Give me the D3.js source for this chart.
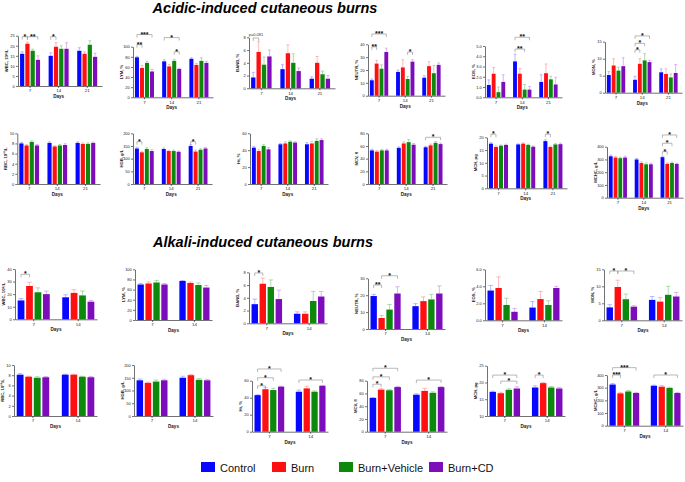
<!DOCTYPE html>
<html><head><meta charset="utf-8">
<script src="https://cdn.jsdelivr.net/npm/d3@7"></script>
<style>body{margin:0;background:#fff}svg{display:block}text{font-family:"Liberation Sans",Arial,sans-serif}</style>
</head><body><svg id="c" width="685" height="482"></svg>
<script>
// ---------- DATA ----------
const days3 = ["7","14","21"];
const days2 = ["7","14"];
const groups = ["Control","Burn","Burn+Vehicle","Burn+CD"];

// Acidic-induced burns: values [day][group], SD [day][group], significance [day, g1, g2, level, label]
const aWBC = [[16,21,17.5,13],[15,19.5,18.5,18.5],[17.5,16,20.5,14.5]];
const aWBCsd = [[1,0.8,0.8,2],[1.5,2,1.5,3],[1.5,1,2,1.8]];
const aWBCsig = [[0,0,1,24.5,"*"],[0,1,3,24.5,"**"],[1,0,1,24.5,"*"]];
const aLYM = [[79,58,68,51],[71,61,72,56],[76,64,72,68]];
const aLYMsd = [[2,5,3,4],[3,4,3,1.5],[2,3,6,3]];
const aLYMsig = [[0,0,1,104,"**"],[0,0,3,124,"***"],[1,0,3,118,"*"],[1,2,3,90,"*"]];
const aBAND = [[1.7,5.7,3.7,5.0],[3.0,5.5,4.0,2.7],[1.5,4.0,2.2,1.5]];
const aBANDsd = [[0.8,1.6,1.2,1.0],[0.7,1.3,1.4,0.5],[0.3,1.0,0.5,0.5]];
const aBANDsig = [[0,0,1,7.9,"p=0.081"]];
const aNEUTR = [[12,25,21,34],[18.5,22,13,26.5],[14,23,17.5,24]];
const aNEUTRsd = [[1,2.5,3,3],[1.5,6,2,1.5],[1.5,3.5,6,1.5]];
const aNEUTRsig = [[0,0,1,38,"**"],[0,0,3,48,"***"],[1,2,3,34,"*"]];
const aEOS = [[1.2,2.3,0.5,1.5],[3.5,2.3,0.75,0.75],[1.5,2.35,1.75,1.25]];
const aEOSsd = [[0.5,0.6,0.5,0.7],[0.7,0.5,0.5,0.3],[0.7,0.9,0.3,0.7]];
const aEOSsig = [[1,0,2,4.7,"**"],[1,0,3,5.85,"**"]];
const aMON = [[5.2,8,6.5,7.8],[3.8,8.5,9.5,9],[6,5.5,4.5,5.8]];
const aMONsd = [[1,2,1,2.5],[1,1.5,2,0.5],[1,1.5,1,2.5]];
const aMONsig = [[1,0,1,12.6,"*"],[1,0,2,14.5,"*"],[1,0,3,16.7,"*"]];
const aRBC = [[8.0,7.6,8.3,7.6],[8.1,7.4,7.6,7.7],[8.1,7.9,7.9,8.1]];
const aRBCsd = [[0.2,0.15,0.2,0.2],[0.2,0.15,0.2,0.25],[0.2,0.2,0.2,0.15]];
const aHGB = [[140,125,138,130],[138,130,130,127],[150,128,135,140]];
const aHGBsd = [[5,4,5,5],[4,3,4,3],[5,6,4,4]];
const aHGBsig = [[0,0,1,167,"*"],[2,0,1,167,"*"]];
const aHt = [[43,39,45,41],[47,48,50,49],[47,48,51,52]];
const aHtsd = [[1.5,1.5,1.5,2],[1,2,1,1],[2,2.5,2.5,1.5]];
const aMCV = [[53,51,53,53],[57,64,66,62],[58,61,65,63]];
const aMCVsd = [[2,1.5,1.5,2],[1.5,2.5,4,2],[1.5,2,2,1.5]];
const aMCVsig = [[2,0,3,73.7,"*"]];
const aMCH = [[17.5,16.2,16.7,17],[17.2,17.5,17,16.3],[18.5,16.2,17.2,17.3]];
const aMCHsd = [[0.4,0.4,0.3,0.3],[0.2,0.3,0.3,0.3],[0.5,0.4,0.3,0.4]];
const aMCHsig = [[0,0,1,21.2,"*"],[2,0,1,21.2,"*"]];
const aMCHC = [[325,315,310,315],[300,272,262,262],[318,265,272,265]];
const aMCHCsd = [[10,8,8,10],[8,10,10,8],[8,8,8,5]];
const aMCHCsig = [[2,0,1,361,"*"],[2,0,2,427,"*"],[2,0,3,492,"*"]];

// Alkali-induced burns
const kWBC = [[15,26.5,21.5,20],[17.5,21,19,14]];
const kWBCsd = [[1.5,3,3.5,2.5],[2,2.5,3.5,1]];
const kWBCsig = [[0,0,1,35.8,"*"]];
const kLYM = [[70,72,74,70],[77,73,69,64]];
const kLYMsd = [[2,3,4,2],[1,2,4,4]];
const kBAND = [[3.0,6.2,5.7,3.8],[1.5,1.5,3.5,4.2]];
const kBANDsd = [[0.8,0.9,1.1,1.4],[0.3,0.3,1.5,0.8]];
const kBANDsig = [[0,0,1,7.9,"*"]];
const kNEUTR = [[19.5,6.5,11.5,21],[13.5,16.5,17.5,21]];
const kNEUTRsd = [[1,1.5,3,4],[1.5,2.5,3,4.5]];
const kNEUTRsig = [[0,0,1,26,"**"],[0,1,3,31.5,"*"]];
const kEOS = [[3.5,3.8,1.8,1.0],[1.5,2.5,1.8,3.8]];
const kEOSsd = [[0.6,1.3,0.8,0.4],[0.7,0.9,0.5,0.2]];
const kMON = [[3.8,9.8,6.2,4.0],[6,5.5,7.5,7]];
const kMONsd = [[0.8,2,1.5,0.3],[1,1.2,2.5,1.2]];
const kMONsig = [[0,0,1,14.5,"*"],[0,1,3,14.5,"*"]];
const kRBC = [[8.1,7.7,7.5,7.6],[8.1,8.1,7.7,7.6]];
const kRBCsd = [[0.2,0.1,0.2,0.15],[0.1,0.1,0.1,0.15]];
const kHGB = [[140,130,135,140],[150,160,142,140]];
const kHGBsd = [[5,3,6,4],[6,3,5,4]];
const kHt = [[43,50,49,53],[47,51,47,54]];
const kHtsd = [[0.5,2,2,0.5],[2,2.5,1,0.5]];
const kHtsig = [[0,0,1,54,"*"],[0,0,2,63.5,"*"],[0,0,3,73.8,"*"],[1,0,3,60.8,"*"]];
const kMCV = [[53,66,65,70],[58,64,61,70]];
const kMCVsd = [[0.5,1.5,1,1],[1.5,4,1.5,1]];
const kMCVsig = [[0,0,1,74.4,"*"],[0,0,2,86,"*"],[0,0,3,99.5,"*"],[1,0,3,81,"*"]];
const kMCH = [[17.2,16.8,17.8,18.2],[18.5,19.8,18.5,18.2]];
const kMCHsd = [[0.2,0.3,0.3,0.5],[0.5,0.2,0.3,0.3]];
const kMCHsig = [[0,0,3,22.2,"*"],[0,1,3,20.4,"*"],[1,0,1,22.2,"*"]];
const kMCHC = [[325,255,270,258],[315,308,298,258]];
const kMCHCsd = [[8,8,8,5],[5,10,5,5]];
const kMCHCsig = [[0,0,1,400,"***"],[0,0,3,458,"***"],[1,0,3,400,"*"]];

// Tick labels
const tWBCa = [0,5,10,15,20,25];
const tWBCk = [0,10,20,30,40];
const tPct100 = [0,20,40,60,80,100];
const tBAND = [0,2,4,6,8];
const tNEUTRa = [0,10,20,30,40];
const tNEUTRk = [0,10,20,30];
const tEOSa = [0,1,2,3,4,5];
const tEOSk = [0,2,4,6];
const tMON = [0,5,10,15];
const tRBC = [0,2,4,6,8,10];
const tHGB = [0,50,100,150,200];
const tHt = [0,20,40,60];
const tMCV = [0,20,40,60,80];
const tMCHa = [0,5,10,15,20];
const tMCHk = [10,15,20,25];
const tMCHC = [0,100,200,300,400];

// ---------- STYLE / LAYOUT ----------
const colors = ["#0707ff","#ff1010","#0c880c","#7d0cba"];
const errColors = ["#8c8cff","#ff8c8c","#7cc47c","#c38ae0"];

const panels = [
  {v:aWBC, sd:aWBCsd, sig:aWBCsig, t:tWBCa, lab:"WBC, 10⁹/L", box:[18,35.7,102,86]},
  {v:aLYM, sd:aLYMsd, sig:aLYMsig, t:tPct100, lab:"LYM, %", box:[133,46.7,213,97.3]},
  {v:aBAND, sd:aBANDsd, sig:aBANDsig, t:tBAND, lab:"BAND, %", box:[249,37.3,335,88.3]},
  {v:aNEUTR, sd:aNEUTRsd, sig:aNEUTRsig, t:tNEUTRa, lab:"NEUTR, %", box:[368,44.3,445,95.7]},
  {v:aEOS, sd:aEOSsd, sig:aEOSsig, t:tEOSa, lab:"EOS, %", box:[485,46,562,97.3]},
  {v:aMON, sd:aMONsd, sig:aMONsig, t:tMON, lab:"MON, %", box:[605,41.7,682,92.7]},
  {v:aRBC, sd:aRBCsd, sig:[], t:tRBC, lab:"RBC, 10¹²/L", box:[17.3,133.3,100,184]},
  {v:aHGB, sd:aHGBsd, sig:aHGBsig, t:tHGB, lab:"HGB, g/L", box:[133,133.3,212,184]},
  {v:aHt, sd:aHtsd, sig:[], t:tHt, lab:"Ht, %", box:[250,133.3,328,184]},
  {v:aMCV, sd:aMCVsd, sig:aMCVsig, t:tMCV, lab:"MCV, fl", box:[368,133.3,447,184]},
  {v:aMCH, sd:aMCHsd, sig:aMCHsig, t:tMCHa, lab:"MCH, pg", box:[487,137.3,567,188.3]},
  {v:aMCHC, sd:aMCHCsd, sig:aMCHCsig, t:tMCHC, lab:"MCHC, g/L", box:[607,146.7,683,197.7]},
  {v:kWBC, sd:kWBCsd, sig:kWBCsig, t:tWBCk, lab:"WBC, 10⁹/L", box:[15,269,97,319.3]},
  {v:kLYM, sd:kLYMsd, sig:[], t:tPct100, lab:"LYM, %", box:[135,269.3,212,320]},
  {v:kBAND, sd:kBANDsd, sig:kBANDsig, t:tBAND, lab:"BAND, %", box:[249,272.3,327,323.3]},
  {v:kNEUTR, sd:kNEUTRsd, sig:kNEUTRsig, t:tNEUTRk, lab:"NEUTR, %", box:[368,278.3,445,329]},
  {v:kEOS, sd:kEOSsd, sig:[], t:tEOSk, lab:"EOS, %", box:[485,269.3,562,320.3]},
  {v:kMON, sd:kMONsd, sig:kMONsig, t:tMON, lab:"MON, %", box:[604,269.3,682,320.3]},
  {v:kRBC, sd:kRBCsd, sig:[], t:tRBC, lab:"RBC, 10¹²/L", box:[14,365,97,416]},
  {v:kHGB, sd:kHGBsd, sig:[], t:tHGB, lab:"HGB, g/L", box:[134,365,213,416]},
  {v:kHt, sd:kHtsd, sig:kHtsig, t:tHt, lab:"Ht, %", box:[252,380.7,328,431.7]},
  {v:kMCV, sd:kMCVsd, sig:kMCVsig, t:tMCV, lab:"MCV, fl", box:[367,380.7,447,431.7]},
  {v:kMCH, sd:kMCHsd, sig:kMCHsig, t:tMCHk, lab:"MCH, pg", box:[487,365.7,565,416]},
  {v:kMCHC, sd:kMCHCsd, sig:kMCHCsig, t:tMCHC, lab:"MCHC, g/L", box:[607,375,683,425.7]}
];

const svg = d3.select("#c");

svg.append("text").attr("x",265).attr("y",13).attr("text-anchor","middle")
  .attr("font-size",14.5).attr("font-weight","bold").attr("font-style","italic")
  .text("Acidic-induced cutaneous burns");
svg.append("text").attr("x",263).attr("y",246.5).attr("text-anchor","middle")
  .attr("font-size",14.5).attr("font-weight","bold").attr("font-style","italic")
  .text("Alkali-induced cutaneous burns");

function drawPanel(p){
  const [x0,yT,x1,yB] = p.box;
  const days = p.v.length === 3 ? days3 : days2;
  const n = days.length;
  const g = svg.append("g");
  const y = d3.scaleLinear().domain([p.t[0], p.t[p.t.length-1]]).range([yB,yT]);
  const x = d3.scaleBand().domain(days).range([x0,x1])
    .paddingInner(n===3?0.3:0.28).paddingOuter(n===3?0.12:0.06).align(n===3?0.3:0.5);
  const xi = d3.scaleBand().domain(groups).range([0,x.bandwidth()]).paddingInner(0.2);
  const bw = xi.bandwidth();

  days.forEach((d,di)=>{
    groups.forEach((gn,gi)=>{
      const v = p.v[di][gi], s = p.sd[di][gi];
      const bx = x(d)+xi(gn);
      const cx = bx + bw/2;
      g.append("line").attr("x1",cx).attr("x2",cx).attr("y1",y(v)).attr("y2",y(v+s))
        .attr("stroke",errColors[gi]).attr("stroke-width",0.6);
      g.append("line").attr("x1",cx-bw*0.35).attr("x2",cx+bw*0.35).attr("y1",y(v+s)).attr("y2",y(v+s))
        .attr("stroke",errColors[gi]).attr("stroke-width",0.6);
      g.append("rect").attr("x",bx).attr("y",y(v)).attr("width",bw).attr("height",yB-y(v))
        .attr("fill",colors[gi]);
    });
  });

  const ya = g.append("g").attr("transform",`translate(${x0},0)`)
    .call(d3.axisLeft(y).tickValues(p.t).tickSize(2).tickSizeOuter(0).tickPadding(1.2));
  const xa = g.append("g").attr("transform",`translate(0,${yB})`)
    .call(d3.axisBottom(x).tickSize(2).tickSizeOuter(0).tickPadding(1.2));
  [ya,xa].forEach(a=>{
    a.attr("font-size",4).attr("font-family","Liberation Sans, Arial, sans-serif");
    a.selectAll("path,line").attr("stroke","#333").attr("stroke-width",0.7);
    a.selectAll("text").attr("fill","#222");
  });
  xa.attr("font-size",4.4);

  const cxDays = (x(days[0]) + x(days[n-1]) + x.bandwidth())/2;
  g.append("text").attr("x",cxDays).attr("y",yB+12).attr("text-anchor","middle")
    .attr("font-size",4.6).attr("font-weight","bold").attr("fill","#222").text("Days");
  g.append("text").attr("transform",`translate(${x0-10.5},${(yT+yB)/2}) rotate(-90)`)
    .attr("text-anchor","middle").attr("font-size",4.2).attr("font-weight","bold").attr("fill","#222")
    .text(p.lab);

  p.sig.forEach(([di,g1,g2,lev,lab])=>{
    const d = days[di];
    const xa1 = x(d)+xi(groups[g1])+bw/2, xa2 = x(d)+xi(groups[g2])+bw/2;
    const yy = y(lev);
    g.append("path").attr("d",`M${xa1},${yy+3}V${yy}H${xa2}V${yy+3}`)
      .attr("fill","none").attr("stroke","#8a8a8a").attr("stroke-width",0.6);
    if (lab.startsWith("p")) {
      g.append("text").attr("x",(xa1+xa2)/2).attr("y",yy-1.5).attr("text-anchor","middle")
        .attr("font-size",4).attr("fill","#333").text(lab);
    } else {
      g.append("text").attr("x",(xa1+xa2)/2).attr("y",yy+2).attr("text-anchor","middle")
        .attr("font-size",7).attr("font-weight","bold").attr("fill","#111").text(lab);
    }
  });
}
panels.forEach(drawPanel);

const legX = [201,272,339,429];
const leg = svg.append("g");
groups.forEach((gn,i)=>{
  leg.append("rect").attr("x",legX[i]).attr("y",462).attr("width",14).attr("height",10).attr("fill",colors[i]);
  leg.append("text").attr("x",legX[i]+19).attr("y",471.5).attr("font-size",11).attr("fill","#111").text(gn);
});
</script>
</body></html>
